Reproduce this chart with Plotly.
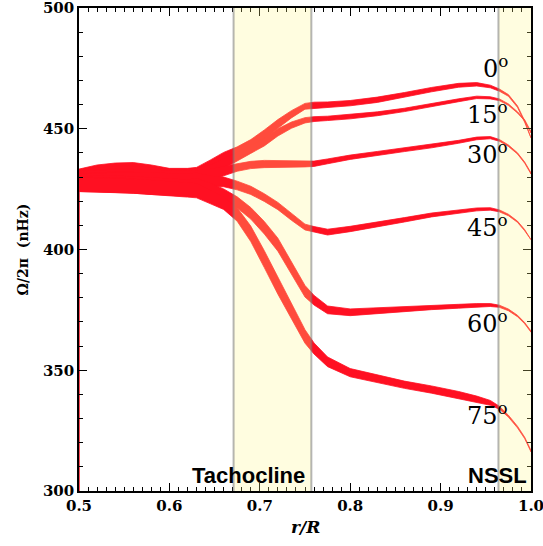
import plotly.graph_objects as go

# radius grid r/R
radius = [0.50, 0.52, 0.54, 0.56, 0.58, 0.60, 0.62, 0.63, 0.645, 0.66, 0.675, 0.69, 0.705, 0.72,
          0.735, 0.75, 0.76, 0.775, 0.80, 0.83, 0.86, 0.89, 0.92, 0.94, 0.955, 0.965, 0.975,
          0.985, 0.993, 1.00]

latitudes = ["0", "15", "30", "45", "60", "75"]

# rotation rate (nHz) per latitude
omega_0 = [430.3, 432.0, 432.8, 433.0, 432.0, 430.6, 430.6, 431.0, 434.5, 438.0, 440.5, 443.5,
           447.5, 452.0, 456.0, 459.3, 459.8, 460.0, 460.6, 462.0, 464.0, 466.2, 468.0, 468.4,
           467.5, 466.0, 463.8, 459.2, 453.0, 446.5]
omega_15 = [429.5, 430.5, 431.0, 431.0, 430.5, 429.8, 429.8, 430.2, 432.5, 435.5, 438.5, 441.5,
            444.5, 448.5, 451.5, 453.5, 454.0, 454.3, 455.0, 456.2, 457.8, 459.8, 461.8, 463.0,
            462.8, 462.0, 460.0, 456.8, 453.5, 448.5]
omega_30 = [429.0, 429.5, 429.8, 429.8, 429.5, 429.0, 429.0, 429.3, 430.8, 432.5, 434.0, 435.0,
            435.4, 435.5, 435.5, 435.4, 435.5, 436.5, 438.2, 439.8, 441.3, 442.8, 444.6, 446.0,
            446.3, 445.2, 443.0, 439.8, 436.0, 431.5]
omega_45 = [428.0, 428.3, 428.5, 428.5, 428.3, 428.0, 428.0, 428.3, 428.3, 428.0, 426.5, 424.5,
            421.5, 418.0, 413.5, 409.3, 408.3, 407.2, 408.5, 410.3, 412.3, 414.3, 415.8, 416.6,
            416.8, 416.0, 414.3, 411.5, 408.0, 404.3]
omega_60 = [427.5, 427.3, 427.1, 426.8, 426.3, 425.8, 425.5, 426.0, 425.0, 422.8, 419.5, 415.0,
            409.0, 402.0, 392.5, 382.7, 379.0, 375.0, 374.0, 374.6, 375.3, 376.0, 376.5, 376.8,
            377.0, 376.5, 375.0, 372.5, 369.5, 366.0]
omega_75 = [427.0, 426.8, 426.6, 426.3, 425.8, 425.3, 424.7, 424.4, 421.8, 419.2, 414.5, 406.5,
            396.0, 385.0, 374.5, 364.0, 359.0, 353.5, 349.0, 346.5, 344.0, 342.0, 339.8, 338.0,
            336.5, 334.5, 331.0, 326.5, 322.0, 316.5]

# half-width of uncertainty (nHz)
err_0 = [3.0, 3.0, 3.0, 3.0, 3.0, 3.0, 3.0, 3.0, 2.5, 2.2, 2.0, 2.0, 2.0, 1.8, 1.5, 1.2, 1.2,
         1.1, 1.1, 1.1, 1.0, 0.9, 0.8, 0.7, 0.55, 0.45, 0.35, 0.3, 0.3, 0.3]
err_15 = [3.5, 3.5, 3.5, 3.5, 3.5, 3.5, 3.5, 3.5, 2.5, 2.0, 1.8, 1.7, 1.6, 1.5, 1.3, 1.1, 1.0,
          0.9, 0.9, 0.8, 0.7, 0.7, 0.6, 0.5, 0.45, 0.35, 0.3, 0.25, 0.25, 0.25]
err_30 = [3.5, 3.5, 3.5, 3.5, 3.5, 3.5, 3.5, 3.5, 2.5, 2.0, 1.6, 1.5, 1.5, 1.4, 1.3, 1.2, 1.1,
          1.0, 0.9, 0.8, 0.75, 0.7, 0.6, 0.55, 0.45, 0.35, 0.3, 0.25, 0.25, 0.25]
err_45 = [3.5, 3.5, 3.5, 3.5, 3.5, 3.5, 3.5, 3.5, 2.2, 2.0, 1.8, 1.7, 1.6, 1.5, 1.4, 1.2, 1.2,
          1.2, 1.1, 1.0, 0.9, 0.8, 0.7, 0.6, 0.5, 0.4, 0.3, 0.25, 0.25, 0.25]
err_60 = [3.5, 3.5, 3.5, 3.5, 3.5, 3.5, 3.5, 3.5, 2.5, 2.3, 2.3, 2.4, 2.6, 2.7, 2.7, 2.4, 2.0,
          1.6, 1.4, 1.2, 1.0, 0.9, 0.8, 0.8, 0.6, 0.45, 0.35, 0.3, 0.25, 0.25]
err_75 = [3.0, 3.0, 3.0, 3.0, 3.0, 3.0, 3.0, 3.0, 2.8, 2.6, 2.8, 3.2, 3.5, 3.5, 3.3, 2.8, 2.3,
          2.0, 1.7, 1.6, 1.5, 1.5, 1.4, 1.3, 1.0, 0.6, 0.4, 0.35, 0.3, 0.3]

omegas = [omega_0, omega_15, omega_30, omega_45, omega_60, omega_75]
errs = [err_0, err_15, err_30, err_45, err_60, err_75]

# latitude label positions (value axis)
label_y = [475.7, 456.4, 439.9, 409.9, 369.8, 331.9]

# region bounds
tachocline = [0.671, 0.757]
nssl = [0.964, 1.0]

# stray vertical segment at r/R = 0.5
edge_r = [0.5, 0.5]
edge_omega = [300, 430]

RED = "rgb(255,16,34)"

fig = go.Figure()

for om, er in zip(omegas, errs):
    upper = [o + e for o, e in zip(om, er)]
    lower = [o - e for o, e in zip(om, er)]
    fig.add_trace(go.Scatter(
        x=radius + radius[::-1], y=upper + lower[::-1],
        fill="toself", fillcolor=RED, mode="lines",
        line=dict(color=RED, width=0.8), hoverinfo="skip", showlegend=False))

fig.add_trace(go.Scatter(x=edge_r, y=edge_omega, mode="lines",
                         line=dict(color=RED, width=1.5), showlegend=False, cliponaxis=False))

shapes = []
for x0, x1 in (tachocline, nssl):
    shapes.append(dict(type="rect", xref="x", yref="y", x0=x0, x1=x1, y0=300, y1=500,
                       fillcolor="rgba(255,247,136,0.26)", line=dict(width=0), layer="above"))
    for xv in (x0, x1):
        if xv < 1.0:
            shapes.append(dict(type="line", xref="x", yref="y", x0=xv, x1=xv, y0=300, y1=500,
                               line=dict(color="rgba(120,120,120,0.55)", width=2), layer="above"))

annotations = []
for lat, ly in zip(latitudes, label_y):
    annotations.append(dict(x=0.977, y=ly, xref="x", yref="y", xanchor="right", yanchor="middle",
                            text=f"{lat}<sup>o</sup>", showarrow=False,
                            font=dict(family="DejaVu Serif", size=24, color="black")))

annotations.append(dict(x=0.687, y=306.6, xref="x", yref="y",
                        text="Tachocline", showarrow=False, xanchor="center", yanchor="middle",
                        font=dict(family="Liberation Sans", size=22, color="black", weight="bold")))
annotations.append(dict(x=0.963, y=306.6, xref="x", yref="y",
                        text="NSSL", showarrow=False, xanchor="center", yanchor="middle",
                        font=dict(family="Liberation Sans", size=22, color="black", weight="bold")))
annotations.append(dict(x=0.5, y=-0.074, xref="paper", yref="paper",
                        text="<i>r/R</i>", showarrow=False, xanchor="center", yanchor="middle",
                        font=dict(family="DejaVu Serif", size=17, color="black", weight="bold")))
annotations.append(dict(x=-0.126, y=0.5, xref="paper", yref="paper", textangle=-90,
                        text="Ω/2π  (nHz)", showarrow=False, xanchor="center", yanchor="middle",
                        font=dict(family="DejaVu Serif", size=14, color="black", weight="bold")))

tickfont = dict(family="DejaVu Serif", size=15, color="black", weight="bold")

fig.update_layout(
    width=543, height=546,
    margin=dict(l=79, r=12, t=8, b=55, autoexpand=False),
    paper_bgcolor="white", plot_bgcolor="white",
    shapes=shapes, annotations=annotations,
    xaxis=dict(range=[0.5, 1.0], tickvals=[0.5, 0.6, 0.7, 0.8, 0.9, 1.0],
               ticktext=["0.5", "0.6", "0.7", "0.8", "0.9", "1.0"], ticklabeloverflow="allow",
               automargin=False,
               ticks="inside", ticklen=8, tickwidth=1, tickcolor="black",
               minor=dict(dtick=0.01, ticks="inside", ticklen=4, tickcolor="black", tickwidth=1),
               showline=True, linecolor="black", linewidth=1.5, mirror="allticks",
               showgrid=False, zeroline=False, tickfont=tickfont),
    yaxis=dict(range=[300, 500], tickvals=[300, 350, 400, 450, 500], ticklabeloverflow="allow",
               automargin=False,
               ticks="inside", ticklen=8, tickwidth=1, tickcolor="black",
               minor=dict(dtick=10, ticks="inside", ticklen=4, tickcolor="black", tickwidth=1),
               showline=True, linecolor="black", linewidth=1.5, mirror="allticks",
               showgrid=False, zeroline=False, tickfont=tickfont),
)

fig.write_html("out.html", config={"displayModeBar": False},
               post_script="document.body.style.margin='0';")
